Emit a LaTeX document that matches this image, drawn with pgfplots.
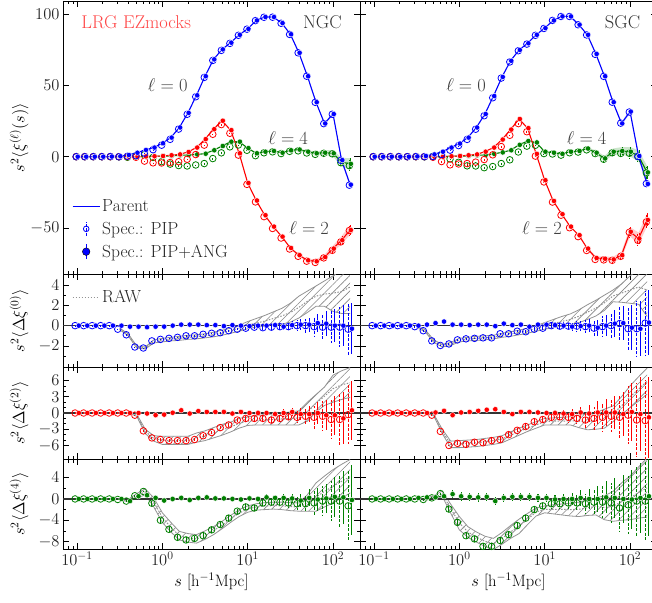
\RequirePackage{fix-cm}
\documentclass[border=0pt]{standalone}
\usepackage{pgfplots}
\pgfplotsset{compat=1.18}
\usepackage{pgfplotstable}
\usepgfplotslibrary{fillbetween}
\usetikzlibrary{patterns.meta}

\pgfplotstableread{
s p0 p2 p4 o0 o2 o4 a0 a2 a4 f0 f2 f4 e0 e2 e4
0.1000 0 0 0 0 0 0 0 0 0 0 0 0 0.03 0.1 0.15
0.1259 0 0 0 0 0 0 0 0 0 0 0 0 0.03 0.1 0.15
0.1585 0 0 0 0 0 0 0 0 0 0 0 0 0.03 0.1 0.15
0.1995 0 0 0 0 0 0 0 0 0 0 0 0 0.03 0.1 0.15
0.2512 0.1 0 0 0.1 0 0 0 0 0 0 0 0 0.03 0.1 0.15
0.3162 0.3 0 0 -0.05 0 -0.1 -0.35 0 -0.1 0 0 0 0.03 0.1 0.15
0.3981 1.2 0 0 0.3 0 -0.4 -0.9 0 -0.4 -0.1 0 -0.4 0.03 0.1 0.15
0.5012 2.8 0 0 0.7 -0.4 0.6 -2.1 -0.4 0.6 -0.1 0 0.5 0.03 0.1 0.15
0.6310 4.7 0.2 0 2.5 -3.1 1.4 -2.2 -3.3 1.4 -0.15 -0.1 0.7 0.03 0.1 0.15
0.7943 6.4 0.3 0.3 4.9 -4.3 -0.5 -1.5 -4.6 -0.8 -0.1 -0.4 0.2 0.03 0.1 0.5
1.000 9.4 0.5 0.5 8.05 -4.4 -3.5 -1.35 -4.9 -4.0 -0.1 -0.3 -0.3 0.05 0.3 0.5
1.259 13.4 1.0 0.5 12.15 -4.1 -5.2 -1.25 -5.1 -5.7 0 0.05 0 0.05 0.3 0.5
1.585 20.5 1.6 1.0 19.35 -3.5 -6.2 -1.15 -5.1 -7.2 0.1 0.5 0.2 0.05 0.3 0.5
1.995 30.7 3.3 1.2 29.7 -1.8 -6.5 -1.0 -5.1 -7.7 0.1 -0.1 -0.2 0.05 0.3 0.5
2.512 43.0 6.4 1.6 42.0 1.5 -5.8 -1.0 -4.9 -7.4 0.1 0.35 0.2 0.05 0.3 0.5
3.162 56.4 12.3 2.1 55.55 8.1 -4.8 -0.85 -4.2 -6.9 0.05 0.2 0.3 0.05 0.3 0.5
3.981 68.2 19.3 4.5 67.45 15.7 -1.3 -0.75 -3.6 -5.8 0.05 0.2 0.1 0.06 0.3 0.5
5.012 75.2 25.2 7.5 74.5 22.5 2.7 -0.7 -2.7 -4.8 -0.05 0.2 0.1 0.08 0.3 0.5
6.310 79.9 18.6 10.5 79.4 16.4 6.9 -0.5 -2.2 -3.6 0.05 -0.1 0 0.1 0.35 0.5
7.943 85.4 2.4 10.5 85.05 1.1 8.2 -0.35 -1.3 -2.3 0 0.2 -0.1 0.12 0.4 0.5
10.00 89.6 -18.4 6.0 89.35 -19.4 4.5 -0.25 -1.0 -1.5 -0.05 0 0.1 0.15 0.45 0.5
12.59 95.5 -30.7 2.4 95.35 -31.7 0.7 -0.15 -1.0 -1.7 0 0 0 0.18 0.5 0.5
15.85 97.9 -41.0 3.5 97.7 -42.0 2.75 -0.2 -1.0 -0.75 0 0 0.3 0.22 0.55 0.55
19.95 97.9 -49.0 4.0 97.75 -50.3 3.4 -0.15 -1.3 -0.6 0.05 -0.2 0.2 0.27 0.6 0.6
25.12 93.6 -56.0 2.8 93.5 -57.0 2.2 -0.1 -1.0 -0.6 -0.1 0 0.2 0.33 0.65 0.7
31.62 85.8 -64.0 4.5 85.7 -64.7 3.75 -0.1 -0.7 -0.75 0.05 0.2 0.1 0.42 0.8 0.9
39.81 72.8 -69.0 5.0 72.8 -69.8 4.1 0 -0.8 -0.9 0.1 -0.2 -0.3 0.55 1.1 1.2
50.12 56.4 -72.6 3.5 56.4 -73.2 2.6 0 -0.6 -0.9 0.1 -0.2 0.2 0.7 1.5 1.6
63.10 38.2 -73.3 2.4 38.1 -74.1 1.65 -0.1 -0.8 -0.75 0.25 0 -0.1 0.9 2.1 2.2
79.43 23.3 -70.3 2.8 23.15 -70.9 2.4 -0.15 -0.6 -0.4 0.2 -0.4 0.1 1.2 2.8 2.8
100.0 29.9 -64.4 2.4 29.75 -65.6 2.0 -0.15 -1.2 -0.4 0 -0.4 0.4 1.6 3.6 3.8
125.9 -2.4 -58.5 -3.8 -2.55 -59.7 -4.2 -0.15 -1.2 -0.4 0 -1.0 0.3 2.0 4.8 5.0
158.5 -19.6 -51.4 -5.0 -19.95 -51.7 -6.3 -0.35 -0.3 -1.3 -0.3 0.5 -0.2 2.5 5.5 6.6
}\ngc

\pgfplotstableread{
s p0 p2 p4 o0 o2 o4 a0 a2 a4 f0 f2 f4 e0 e2 e4
0.1000 0 0 0 0 0 0 0 0 0 0 0 0 0.05 0.15 0.2
0.1259 0 0 0 0 0 0 0 0 0 0 0 0 0.05 0.15 0.2
0.1585 0 0 0 0 0 0 0 0 0 0 0 0 0.05 0.15 0.2
0.1995 0 0 0 0 0 0 0 0 0 0 0 0 0.05 0.15 0.2
0.2512 0 0 0 0 0 0 0 0 0 0 0 0 0.05 0.15 0.2
0.3162 0.2 0 0 0.1 0 0 -0.1 0 0 0 0 0.2 0.05 0.15 0.2
0.3981 0.5 0 0 0 0 -0.1 -0.5 0 -0.1 0.1 0 0.3 0.05 0.15 0.2
0.5012 1.6 0 0 0.1 -0.4 0.2 -1.5 -0.4 0.2 0.25 0.1 0.3 0.05 0.15 0.2
0.6310 3.5 0 0 1.55 -3.4 1.0 -1.95 -3.4 1.0 0.4 0.4 0.5 0.05 0.15 0.2
0.7943 6.4 0.3 0.3 4.6 -5.7 -1.6 -1.8 -6.0 -1.9 0.1 -0.4 0.9 0.05 0.15 0.8
1.000 9.2 0.5 0.5 7.8 -5.1 -3.9 -1.4 -5.6 -4.4 0.1 0.1 0.5 0.08 0.4 0.8
1.259 13.4 1.0 0.5 12.1 -4.8 -6.4 -1.3 -5.8 -6.9 0.05 0.2 0.4 0.08 0.4 0.8
1.585 20.5 1.6 1.0 19.25 -3.8 -6.5 -1.25 -5.4 -7.5 0.1 0.4 0.3 0.08 0.4 0.8
1.995 29.9 3.5 1.2 28.7 -2.0 -7.7 -1.2 -5.5 -8.9 0.1 0.6 0.4 0.08 0.4 0.8
2.512 42.5 6.4 2.0 41.3 1.3 -6.9 -1.2 -5.1 -8.9 -0.05 0.7 -0.4 0.08 0.4 0.8
3.162 55.9 12.0 3.0 55.1 7.1 -4.8 -0.8 -4.9 -7.8 0.2 0.2 0.2 0.08 0.4 0.8
3.981 67.2 19.0 4.5 66.4 15.0 -2.2 -0.8 -4.0 -6.7 0.05 -0.2 0.4 0.1 0.4 0.8
5.012 74.8 26.4 8.3 74.25 23.2 3.3 -0.55 -3.2 -5.0 0.1 0.2 0.4 0.12 0.4 0.8
6.310 79.5 20.0 11.0 78.9 17.5 7.4 -0.6 -2.5 -3.6 -0.1 0.2 0.4 0.15 0.45 0.8
7.943 85.4 2.0 10.0 85.05 0.4 8.0 -0.35 -1.6 -2.0 0.1 0.1 0.2 0.18 0.5 0.8
10.00 90.1 -16.5 3.5 89.85 -17.7 2.2 -0.25 -1.2 -1.3 0.1 0 0.2 0.22 0.55 0.8
12.59 95.5 -31.0 2.8 95.5 -31.8 1.9 0 -0.8 -0.9 0.05 0 -0.1 0.27 0.6 0.9
15.85 98.3 -40.3 2.0 98.25 -41.0 1.1 -0.05 -0.7 -0.9 0 -0.1 0 0.33 0.7 1.0
19.95 98.3 -49.0 3.5 98.25 -49.8 2.75 -0.05 -0.8 -0.75 -0.1 -0.2 0 0.4 0.85 1.2
25.12 92.5 -55.0 4.0 92.45 -56.0 3.25 -0.05 -1.0 -0.75 -0.05 0.1 0.2 0.5 1.0 1.5
31.62 85.4 -64.4 5.7 85.3 -65.7 4.8 -0.1 -1.3 -0.9 0 -0.1 0 0.62 1.5 1.9
39.81 72.0 -71.0 2.8 71.75 -72.0 2.2 -0.25 -1.0 -0.6 -0.2 0.1 0 0.78 2.1 2.4
50.12 56.4 -71.5 -1.2 56.3 -72.3 -1.8 -0.1 -0.8 -0.6 0 0.1 0.3 1.0 2.5 3.0
63.10 38.2 -72.0 3.5 38.2 -72.6 2.75 0 -0.6 -0.75 0.2 0.1 0.2 1.3 3.0 3.7
79.43 23.3 -69.0 4.0 23.5 -69.8 2.3 0.2 -0.8 -1.7 0.25 -0.2 0 1.7 4.0 4.5
100.0 31.6 -52.6 3.5 31.3 -53.0 2.4 -0.3 -0.4 -1.1 -0.2 0.2 -0.1 2.2 5.4 5.5
125.9 0.5 -57.3 0.5 0.2 -58.6 0.1 -0.3 -1.3 -0.4 -0.3 -0.2 0.2 2.7 6.9 6.5
158.5 -19.1 -44.3 -11.0 -18.85 -45.7 -11.4 0.25 -1.4 -0.4 0.3 -0.8 0.5 3.2 7.5 7.5
}\sgc

\pgfplotstableread{
s L0 U0 R0 L2 U2 R2 L4 U4 R4
0.3162 -0.4 -0.25 -0.33 0 0 0 -0.2 0 -0.1
0.3981 -1.0 -0.8 -0.9 0 0.1 0.05 -0.5 -0.1 -0.3
0.5012 -2.2 -2.0 -2.1 -0.6 -0.2 -0.4 0.1 1.0 0.55
0.6310 -2.3 -2.1 -2.2 -3.8 -3.0 -3.4 0.8 1.9 1.35
0.7943 -1.7 -1.4 -1.55 -5.2 -4.2 -4.7 -1.5 0.2 -0.6
1.000 -1.6 -1.25 -1.42 -5.8 -4.3 -5.0 -4.4 -2.6 -3.5
1.259 -1.5 -1.15 -1.32 -5.8 -4.3 -5.1 -6.2 -4.4 -5.3
1.585 -1.45 -1.05 -1.25 -5.8 -4.3 -5.1 -7.7 -6.1 -6.9
1.995 -1.35 -0.95 -1.15 -5.8 -4.3 -5.05 -8.1 -6.5 -7.3
2.512 -1.3 -0.9 -1.1 -5.4 -3.7 -4.6 -8.3 -6.7 -7.5
3.162 -1.2 -0.8 -1.0 -5.1 -3.3 -4.2 -7.6 -6.0 -6.8
3.981 -1.1 -0.65 -0.88 -4.6 -2.7 -3.65 -6.7 -5.2 -5.95
5.012 -0.95 -0.45 -0.7 -4.1 -2.1 -3.1 -5.6 -4.2 -4.9
6.310 -0.75 -0.25 -0.5 -3.5 -1.7 -2.6 -4.4 -3.1 -3.75
7.943 -0.55 0.05 -0.25 -2.8 -1.0 -1.9 -3.3 -2.0 -2.65
10.00 -0.3 0.4 0.05 -2.3 -0.7 -1.5 -2.5 -1.3 -1.9
12.59 -0.15 0.7 0.25 -2.2 -0.5 -1.35 -2.1 -0.9 -1.5
15.85 -0.05 1.0 0.45 -2.2 -0.3 -1.25 -2.0 -0.7 -1.35
19.95 0.05 1.35 0.7 -2.2 -0.2 -1.2 -1.9 -0.6 -1.25
25.12 0.15 1.7 0.95 -2.2 0.0 -1.1 -2.0 -0.6 -1.3
31.62 0.35 2.2 1.3 -2.2 0.2 -1.0 -2.2 -0.7 -1.45
39.81 0.75 2.9 1.8 -2.2 0.4 -0.9 -2.3 -0.75 -1.5
50.12 1.3 3.4 2.4 -1.5 2.0 0.2 -2.3 0.8 -0.7
63.10 1.9 3.9 2.9 0.2 3.4 1.8 -2.3 3.0 0.35
79.43 1.9 4.4 3.1 1.4 4.8 3.1 -1.5 4.3 1.4
100.0 1.4 4.9 3.2 2.0 7.0 4.5 -0.75 5.5 2.4
125.9 1.2 5.5 3.35 2.5 7.8 5.2 0.2 6.5 3.3
158.5 1.2 6.5 3.8 2.9 8.4 5.6 1.1 7.4 4.2
}\ngcband

\pgfplotstableread{
s L0 U0 R0 L2 U2 R2 L4 U4 R4
0.3162 -0.2 0 -0.1 0 0 0 -0.1 0.1 0
0.3981 -0.6 -0.4 -0.5 0 0.1 0.05 -0.2 0.1 -0.05
0.5012 -1.65 -1.4 -1.5 -0.5 -0.2 -0.35 -0.1 0.6 0.25
0.6310 -2.1 -1.85 -1.95 -3.8 -3.0 -3.4 0.5 1.5 1.0
0.7943 -1.95 -1.65 -1.8 -6.4 -5.2 -5.8 -2.7 -1.0 -1.85
1.000 -1.6 -1.25 -1.42 -6.4 -5.1 -5.7 -5.8 -3.3 -4.5
1.259 -1.5 -1.15 -1.32 -6.3 -5.0 -5.6 -7.2 -5.2 -6.2
1.585 -1.45 -1.05 -1.25 -6.2 -4.9 -5.5 -8.1 -6.2 -7.15
1.995 -1.4 -1.0 -1.2 -6.0 -4.7 -5.3 -8.9 -7.0 -7.95
2.512 -1.3 -0.95 -1.12 -5.8 -4.5 -5.1 -9.5 -7.4 -8.4
3.162 -1.15 -0.75 -0.95 -5.5 -4.2 -4.8 -8.5 -6.3 -7.4
3.981 -1.05 -0.6 -0.82 -4.8 -3.5 -4.1 -7.4 -5.0 -6.2
5.012 -0.9 -0.45 -0.67 -4.1 -2.8 -3.4 -6.5 -3.8 -5.1
6.310 -0.75 -0.25 -0.5 -3.4 -2.2 -2.8 -4.8 -2.7 -3.8
7.943 -0.55 0 -0.27 -2.8 -1.6 -2.2 -3.2 -1.7 -2.45
10.00 -0.35 0.3 -0.02 -2.2 -1.0 -1.6 -2.6 -1.3 -1.95
12.59 -0.2 0.6 0.2 -2.2 -0.9 -1.5 -2.8 -1.1 -1.95
15.85 -0.05 0.9 0.42 -2.2 -0.8 -1.5 -3.0 -0.95 -1.95
19.95 0.05 1.15 0.6 -2.2 -0.7 -1.45 -3.2 -0.8 -2.0
25.12 0.3 1.55 0.92 -2.7 -0.4 -1.5 -3.3 -0.6 -1.95
31.62 0.6 2.05 1.32 -3.1 -0.2 -1.6 -3.1 -0.2 -1.65
39.81 0.95 2.5 1.72 -3.0 0.1 -1.4 -3.0 0.2 -1.4
50.12 1.5 3.0 2.25 -2.8 0.7 -1.0 -3.9 0.6 -1.6
63.10 2.35 3.5 2.92 -1.6 1.3 -0.1 -4.2 1.4 -1.4
79.43 2.3 4.1 3.2 -0.3 3.0 1.3 -4.0 3.0 -0.5
100.0 2.2 4.9 3.5 1.0 5.0 3.0 -3.9 4.3 0.2
125.9 2.1 5.5 3.8 2.2 6.7 4.4 -3.6 6.0 1.2
158.5 0.9 6.0 3.5 3.5 8.3 5.9 -3.4 7.7 2.1
}\sgcband

\definecolor{pgreen}{RGB}{0,128,0}
\definecolor{lrgred}{RGB}{255,70,70}

\pgfplotsset{
  every axis/.append style={font=\fontsize{16.5}{19}\selectfont},
  every axis y label/.style={at={(axis description cs:-0.148,0.5)}, rotate=90, anchor=center},
  mkopen/.style={only marks, mark=o, mark size=3.3pt, draw=#1, forget plot,
    mark options={solid, draw=#1, fill=none, line width=0.8pt},
    error bars/y dir=both, error bars/y explicit, error bars/error mark=none,
    error bars/error bar style={#1, line width=0.9pt, dash pattern=on 3pt off 1.5pt}},
  mkfill/.style={only marks, mark=*, mark size=2.7pt, draw=#1, forget plot,
    mark options={solid, fill=#1, draw=white, line width=0.4pt},
    error bars/y dir=both, error bars/y explicit, error bars/error mark=none,
    error bars/error bar style={#1, line width=1.1pt, solid}},
}

% top panel: #1 table, #2 colour, #3 multipole
\newcommand{\topset}[3]{%
  \addplot[draw=none, name path=bu, forget plot] table[x=s, y expr=\thisrow{p#3}+0.6*\thisrow{e#3}, skip coords between index={0}{25}] {#1};
  \addplot[draw=none, name path=bl, forget plot] table[x=s, y expr=\thisrow{p#3}-0.6*\thisrow{e#3}, skip coords between index={0}{25}] {#1};
  \addplot[fill=#2, fill opacity=0.2, draw=none, forget plot] fill between[of=bu and bl];
  \addplot[#2, line width=1.1pt, forget plot] table[x=s, y=p#3] {#1};
  \addplot[mkopen=#2] table[x expr=\thisrow{s}*0.98, y=o#3, y error expr=0.6*\thisrow{e#3}] {#1};
  \addplot[mkfill=#2] table[x expr=\thisrow{s}*1.02, y=p#3, y error expr=0.6*\thisrow{e#3}] {#1};
}
% difference panel: #1 table, #2 band table, #3 colour, #4 multipole
\newcommand{\dset}[4]{%
  \addplot[gray!85, line width=0.8pt, name path=lo, forget plot] table[x=s, y=L#4] {#2};
  \addplot[gray!85, line width=0.8pt, name path=hi, forget plot] table[x=s, y=U#4] {#2};
  \addplot[draw=none, pattern={Lines[angle=45,distance=5.5pt,line width=0.6pt]}, pattern color=gray!95, forget plot] fill between[of=lo and hi];
  \addplot[gray!85, line width=1pt, dash pattern=on 1.5pt off 1.5pt, forget plot] table[x=s, y=R#4] {#2};
  \addplot[black!80, line width=1.2pt, forget plot] coordinates {(0.06,0) (250,0)};
  \addplot[mkopen=#3] table[x expr=\thisrow{s}*0.95, y=a#4, y error=e#4] {#1};
  \addplot[mkfill=#3] table[x expr=\thisrow{s}*1.05, y=f#4, y error=e#4] {#1};
}

\begin{document}
\begin{tikzpicture}
% ---------------- NGC top
\begin{axis}[xmode=log, scale only axis, width=297pt, xmin=0.0686, xmax=207,
  axis line style={line width=0.9pt}, tick style={black, line width=0.7pt},
  major tick length=6pt, minor tick length=3.5pt, tick label style={text=black!85},
  anchor=north west, xticklabel=\empty,
  at={(63pt,-1pt)}, height=273pt,
  ymin=-82.2, ymax=109.1, ytick={-50,0,50,100},
  ylabel={$s^2\langle\xi^{(\ell)}(s)\rangle$},
  legend style={at={(rel axis cs:0.02,0.041)}, anchor=south west, draw=none, fill=none,
    font=\fontsize{17.5}{20}\selectfont, text=black!85, row sep=5pt},
  legend cell align=left]
\addlegendimage{legend image code/.code={\draw[draw=blue, color=blue, line width=1.1pt] (0pt,0pt)--(27pt,0pt);}}
\addlegendentry{Parent}
\addlegendimage{legend image code/.code={\draw[draw=blue, line width=0.9pt, dash pattern=on 3pt off 1.5pt] (13.5pt,-7pt)--(13.5pt,7pt); \draw[draw=blue, line width=0.8pt] (13.5pt,0pt) circle (2.8pt);}}
\addlegendentry{Spec.: PIP}
\addlegendimage{legend image code/.code={\draw[draw=blue, line width=1.1pt] (13.5pt,-7.5pt)--(13.5pt,7.5pt); \fill[fill=blue] (13.5pt,0pt) circle (3.8pt);}}
\addlegendentry{Spec.: PIP+ANG}
\topset{\ngc}{pgreen}{4}
\topset{\ngc}{red}{2}
\topset{\ngc}{blue}{0}
\node[anchor=west, text=lrgred, font=\fontsize{18.5}{22}\selectfont] at (rel axis cs:0.05,0.923) {LRG EZmocks};
\node[anchor=east, text=black!80, font=\fontsize{18.5}{22}\selectfont] at (rel axis cs:0.95,0.923) {NGC};
\node[text=black!75, font=\fontsize{18.5}{22}\selectfont] at (axis cs:1.16,50) {$\ell=0$};
\node[text=black!75, font=\fontsize{18.5}{22}\selectfont] at (axis cs:29.8,13.3) {$\ell=4$};
\node[text=black!75, font=\fontsize{18.5}{22}\selectfont] at (axis cs:52.5,-50) {$\ell=2$};
\end{axis}
% ---------------- SGC top
\begin{axis}[xmode=log, scale only axis, width=297pt, xmin=0.0686, xmax=207,
  axis line style={line width=0.9pt}, tick style={black, line width=0.7pt},
  major tick length=6pt, minor tick length=3.5pt, tick label style={text=black!85},
  anchor=north west, xticklabel=\empty, yticklabel=\empty,
  at={(360pt,-1pt)}, height=273pt,
  ymin=-82.2, ymax=109.1, ytick={-50,0,50,100}]
\topset{\sgc}{pgreen}{4}
\topset{\sgc}{red}{2}
\topset{\sgc}{blue}{0}
\node[anchor=east, text=black!80, font=\fontsize{18.5}{22}\selectfont] at (rel axis cs:0.955,0.923) {SGC};
\node[text=black!75, font=\fontsize{18.5}{22}\selectfont] at (axis cs:1.2,50) {$\ell=0$};
\node[text=black!75, font=\fontsize{18.5}{22}\selectfont] at (axis cs:31,13.3) {$\ell=4$};
\node[text=black!75, font=\fontsize{18.5}{22}\selectfont] at (axis cs:9.3,-50) {$\ell=2$};
\end{axis}
% ---------------- row 2
\begin{axis}[xmode=log, scale only axis, width=297pt, xmin=0.0686, xmax=207,
  axis line style={line width=0.9pt}, tick style={black, line width=0.7pt},
  major tick length=6pt, minor tick length=3.5pt, tick label style={text=black!85},
  anchor=north west, xticklabel=\empty,
  at={(63pt,-274pt)}, height=93pt,
  ymin=-4.07, ymax=5.08, ytick={-2,0,2,4}, minor ytick={-3,-1,1,3},
  ylabel={$s^2\langle\Delta\xi^{(0)}\rangle$},
  legend style={at={(rel axis cs:0.02,0.87)}, anchor=north west, draw=none, fill=none,
    font=\fontsize{17.5}{20}\selectfont, text=black!85}]
\addlegendimage{legend image code/.code={\draw[draw=gray!85, line width=1pt, dash pattern=on 1.5pt off 1.5pt] (0pt,0pt)--(27pt,0pt);}}
\addlegendentry{RAW}
\dset{\ngc}{\ngcband}{blue}{0}
\end{axis}
\begin{axis}[xmode=log, scale only axis, width=297pt, xmin=0.0686, xmax=207,
  axis line style={line width=0.9pt}, tick style={black, line width=0.7pt},
  major tick length=6pt, minor tick length=3.5pt, tick label style={text=black!85},
  anchor=north west, xticklabel=\empty, yticklabel=\empty,
  at={(360pt,-274pt)}, height=93pt,
  ymin=-4.07, ymax=5.08, ytick={-2,0,2,4}, minor ytick={-3,-1,1,3}]
\dset{\sgc}{\sgcband}{blue}{0}
\end{axis}
% ---------------- row 3
\begin{axis}[xmode=log, scale only axis, width=297pt, xmin=0.0686, xmax=207,
  axis line style={line width=0.9pt}, tick style={black, line width=0.7pt},
  major tick length=6pt, minor tick length=3.5pt, tick label style={text=black!85},
  anchor=north west, xticklabel=\empty,
  at={(63pt,-367pt)}, height=92pt,
  ymin=-8.5, ymax=8.5, ytick={-6,-3,0,3,6}, minor y tick num=2,
  ylabel={$s^2\langle\Delta\xi^{(2)}\rangle$}]
\dset{\ngc}{\ngcband}{red}{2}
\end{axis}
\begin{axis}[xmode=log, scale only axis, width=297pt, xmin=0.0686, xmax=207,
  axis line style={line width=0.9pt}, tick style={black, line width=0.7pt},
  major tick length=6pt, minor tick length=3.5pt, tick label style={text=black!85},
  anchor=north west, xticklabel=\empty, yticklabel=\empty,
  at={(360pt,-367pt)}, height=92pt,
  ymin=-8.5, ymax=8.5, ytick={-6,-3,0,3,6}, minor y tick num=2]
\dset{\sgc}{\sgcband}{red}{2}
\end{axis}
% ---------------- row 4
\begin{axis}[xmode=log, scale only axis, width=297pt, xmin=0.0686, xmax=207,
  axis line style={line width=0.9pt}, tick style={black, line width=0.7pt},
  major tick length=6pt, minor tick length=3.5pt, tick label style={text=black!85},
  anchor=north west,
  at={(63pt,-459pt)}, height=90pt,
  ymin=-9.4, ymax=7.5, ytick={-8,-4,0,4}, minor y tick num=1,
  ylabel={$s^2\langle\Delta\xi^{(4)}\rangle$},
  xlabel={$s$ [h$^{-1}$Mpc]}]
\dset{\ngc}{\ngcband}{pgreen}{4}
\end{axis}
\begin{axis}[xmode=log, scale only axis, width=297pt, xmin=0.0686, xmax=207,
  axis line style={line width=0.9pt}, tick style={black, line width=0.7pt},
  major tick length=6pt, minor tick length=3.5pt, tick label style={text=black!85},
  anchor=north west, yticklabel=\empty,
  at={(360pt,-459pt)}, height=90pt,
  ymin=-9.4, ymax=7.5, ytick={-8,-4,0,4}, minor y tick num=1,
  xlabel={$s$ [h$^{-1}$Mpc]}]
\dset{\sgc}{\sgcband}{pgreen}{4}
\end{axis}
\pgfresetboundingbox
\useasboundingbox (0pt,-602pt) rectangle (652pt,0pt);
\end{tikzpicture}
\end{document}
